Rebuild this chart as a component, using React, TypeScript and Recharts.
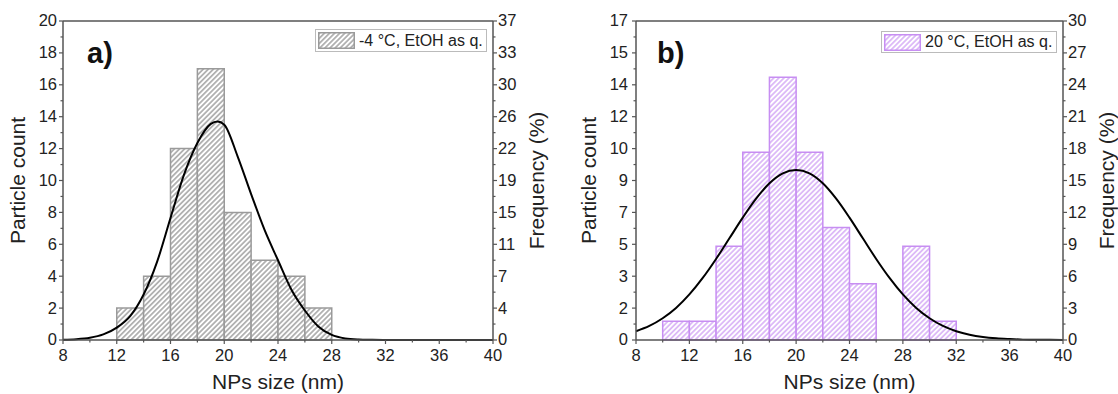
import React from "react";
import {
  ComposedChart,
  Line,
  XAxis,
  YAxis,
  ReferenceArea,
  ReferenceLine,
  Legend,
  Label,
} from "recharts";

const FONT = '"Liberation Sans", Arial, sans-serif';
const AXIS = "#555";
const TEXT = "#222";
const BIN = 2;

const sizeTicks = [8, 10, 12, 14, 16, 18, 20, 22, 24, 26, 28, 30, 32, 34, 36, 38, 40];

// a) -4 °C
const binStartA = [12, 14, 16, 18, 20, 22, 24, 26];
const countA = [2, 4, 12, 17, 8, 5, 4, 2];
const fitXA = [8, 9, 10, 11, 12, 13, 14, 15, 16, 17, 18, 19, 19.5, 20, 21, 22, 23, 24, 25, 26, 27, 28, 29, 30, 31, 32, 33, 34, 35, 36, 37, 38, 39, 40];
const fitYA = [0.02, 0.05, 0.14, 0.35, 0.78, 1.5, 2.85, 4.9, 7.65, 10.35, 12.35, 13.55, 13.7, 13.5, 11.5, 9.15, 6.9, 5.0, 3.15, 1.85, 0.85, 0.32, 0.1, 0.03, 0.01, 0, 0, 0, 0, 0, 0, 0, 0, 0];
const countLabelsA = ["0", "2", "4", "6", "8", "10", "12", "14", "16", "18", "20"];
const freqLabelsA = ["0", "4", "7", "11", "15", "19", "22", "26", "30", "33", "37"];

// b) 20 °C
const binStartB = [10, 12, 14, 16, 18, 20, 22, 24, 26, 28, 30];
const countB = [1, 1, 5, 10, 14, 10, 6, 3, 0, 5, 1];
const fitXB = [8, 9, 10, 11, 12, 13, 14, 15, 16, 17, 18, 19, 20, 21, 22, 23, 24, 25, 26, 27, 28, 29, 30, 31, 32, 33, 34, 35, 36, 37, 38, 39, 40];
const fitYB = [0.47, 0.75, 1.16, 1.71, 2.43, 3.31, 4.32, 5.42, 6.52, 7.53, 8.35, 8.88, 9.06, 8.88, 8.35, 7.53, 6.52, 5.42, 4.32, 3.31, 2.43, 1.71, 1.16, 0.75, 0.47, 0.28, 0.16, 0.09, 0.05, 0.02, 0.01, 0.01, 0];
const countLabelsB = ["0", "2", "3", "5", "7", "9", "10", "12", "14", "15", "17"];
const freqLabelsB = ["0", "3", "6", "9", "12", "15", "18", "21", "24", "27", "30"];

function makeTicks(max: number, n: number) {
  const step = max / (n - 1);
  const out: number[] = [];
  for (let i = 0; i < n; i++) {
    out.push(i * step);
    if (i < n - 1) out.push((i + 0.5) * step);
  }
  return out;
}

function yTick(side: "left" | "right", labels: string[], max: number, gap: number) {
  const step = max / (labels.length - 1);
  return (props: any) => {
    const { x, y, payload } = props;
    const i = Math.round(payload.value / step);
    const major = Math.abs(payload.value - i * step) < 1e-6;
    const dir = side === "left" ? -1 : 1;
    const len = major ? 4 : 2.5;
    return (
      <g>
        <line x1={x} x2={x + dir * len} y1={y} y2={y} stroke={AXIS} strokeWidth={1.2} />
        {major && (
          <text
            x={x + dir * gap}
            y={y}
            dy="0.33em"
            textAnchor={side === "left" ? "end" : "start"}
            fontSize={16.5}
            fontFamily={FONT}
            fill={TEXT}
          >
            {labels[i]}
          </text>
        )}
      </g>
    );
  };
}

const xTick = (props: any) => {
  const { x, y, payload } = props;
  const major = (payload.value - 8) % 4 === 0;
  return (
    <g>
      <line x1={x} x2={x} y1={y} y2={y + (major ? 4 : 2.5)} stroke={AXIS} strokeWidth={1.2} />
      {major && (
        <text x={x} y={y + 21} textAnchor="middle" fontSize={16.5} fontFamily={FONT} fill={TEXT}>
          {payload.value}
        </text>
      )}
    </g>
  );
};

function Hatch({ id, color }: { id: string; color: string }) {
  return (
    <pattern id={id} patternUnits="userSpaceOnUse" width={3.6} height={3.6} patternTransform="rotate(45)">
      <rect width={3.6} height={3.6} fill="#fff" />
      <line x1={1.8} y1={0} x2={1.8} y2={3.6} stroke={color} strokeWidth={1.1} />
    </pattern>
  );
}

type PanelProps = {
  left: number;
  id: string;
  margin: { top: number; right: number; bottom: number; left: number };
  leftW: number;
  rightW: number;
  binStart: number[];
  counts: number[];
  fitX: number[];
  fitY: number[];
  countLabels: string[];
  freqLabels: string[];
  countMax: number;
  border: string;
  hatch: string;
  legendText: string;
  legendBox: { left: number; top: number; width: number; height: number };
  letter: string;
  letterX: number;
  leftLabelOffset: number;
  rightLabelOffset: number;
  leftGap: number;
};

function Panel(p: PanelProps) {
  const data = p.fitX.map((x, i) => ({ x, fit: p.fitY[i] }));
  const ticks = makeTicks(p.countMax, p.countLabels.length);
  return (
    <div style={{ position: "absolute", left: p.left, top: 0, width: 559, height: 394 }}>
      <ComposedChart width={559} height={394} data={data} margin={p.margin}>
        <defs>
          <Hatch id={p.id} color={p.hatch} />
        </defs>
        <XAxis
          dataKey="x"
          type="number"
          domain={[8, 40]}
          ticks={sizeTicks}
          interval={0}
          height={50}
          tickSize={0}
          tickMargin={0}
          tick={xTick}
          stroke={AXIS}
          strokeWidth={1.5}
        >
          <Label value="NPs size (nm)" position="insideBottom" offset={1} fontSize={21} fontFamily={FONT} fill={TEXT} />
        </XAxis>
        <YAxis
          yAxisId="L"
          type="number"
          domain={[0, p.countMax]}
          ticks={ticks}
          interval={0}
          width={p.leftW}
          tickSize={0}
          tickMargin={0}
          tick={yTick("left", p.countLabels, p.countMax, p.leftGap)}
          stroke={AXIS}
          strokeWidth={1.5}
        >
          <Label
            value="Particle count"
            angle={-90}
            position="insideLeft"
            offset={p.leftLabelOffset}
            fontSize={21}
            fontFamily={FONT}
            fill={TEXT}
            style={{ textAnchor: "middle" }}
          />
        </YAxis>
        <YAxis
          yAxisId="R"
          orientation="right"
          type="number"
          domain={[0, p.countMax]}
          allowDataOverflow
          ticks={ticks}
          interval={0}
          width={p.rightW}
          tickSize={0}
          tickMargin={0}
          tick={yTick("right", p.freqLabels, p.countMax, 5)}
          stroke={AXIS}
          strokeWidth={1.5}
        >
          <Label
            value="Frequency (%)"
            angle={-90}
            position="insideRight"
            offset={p.rightLabelOffset}
            fontSize={21}
            fontFamily={FONT}
            fill={TEXT}
            style={{ textAnchor: "middle" }}
          />
        </YAxis>
        <ReferenceLine yAxisId="L" y={p.countMax} stroke={AXIS} strokeWidth={1.5} />
        {p.binStart.map((s, i) =>
          p.counts[i] > 0 ? (
            <ReferenceArea
              key={s}
              yAxisId="L"
              x1={s}
              x2={s + BIN}
              y1={0}
              y2={p.counts[i]}
              fill={`url(#${p.id})`}
              fillOpacity={1}
              stroke={p.border}
              strokeWidth={1.5}
            />
          ) : null
        )}
        {/* frequency axis carries the same fit, invisible, so the axis is drawn */}
        <Line
          yAxisId="R"
          dataKey="fit"
          type="monotone"
          dot={false}
          activeDot={false}
          stroke="none"
          legendType="none"
          isAnimationActive={false}
        />
        <Line
          yAxisId="L"
          dataKey="fit"
          type="monotone"
          dot={false}
          stroke="#000"
          strokeWidth={2}
          isAnimationActive={false}
        />
        <Legend
          verticalAlign="middle"
          layout="horizontal"
          align="center"
          wrapperStyle={{ ...p.legendBox, margin: 0, padding: 0 }}
          content={() => (
            <div
              style={{
                boxSizing: "border-box",
                width: p.legendBox.width,
                height: p.legendBox.height,
                border: "1px solid #bbb",
                background: "#fff",
                display: "flex",
                alignItems: "center",
                paddingLeft: 2,
                fontFamily: FONT,
                fontSize: 16,
                color: TEXT,
                whiteSpace: "nowrap",
              }}
            >
              <svg width={37} height={17} style={{ marginRight: 4 }}>
                <defs>
                  <Hatch id={p.id + "-lg"} color={p.hatch} />
                </defs>
                <rect x={0.75} y={0.75} width={35.5} height={15.5} fill={`url(#${p.id}-lg)`} stroke={p.border} strokeWidth={1.5} />
              </svg>
              <span>{p.legendText}</span>
            </div>
          )}
        />
      </ComposedChart>
      <div
        style={{
          position: "absolute",
          left: p.letterX,
          top: 36,
          fontFamily: FONT,
          fontWeight: "bold",
          fontSize: 29,
          lineHeight: "34px",
          color: "#111",
        }}
      >
        {p.letter}
      </div>
    </div>
  );
}

export default function App() {
  return (
    <div style={{ position: "absolute", left: 0, top: 0, width: 1118, height: 394, background: "#fff", fontFamily: FONT }}>
      <Panel
        left={0}
        id="hatchA"
        margin={{ top: 21, right: 8, bottom: 4, left: 8 }}
        leftW={55}
        rightW={58}
        binStart={binStartA}
        counts={countA}
        fitX={fitXA}
        fitY={fitYA}
        countLabels={countLabelsA}
        freqLabels={freqLabelsA}
        countMax={20}
        border="#9a9a9a"
        hatch="#808080"
        legendText="-4 °C, EtOH as q."
        legendBox={{ left: 315, top: 29, width: 172, height: 23 }}
        letter="a)"
        letterX={87}
        leftLabelOffset={10}
        rightLabelOffset={14}
        leftGap={6}
      />
      <Panel
        left={559}
        id="hatchB"
        margin={{ top: 21, right: 4, bottom: 4, left: 8 }}
        leftW={69}
        rightW={51}
        binStart={binStartB}
        counts={countB}
        fitX={fitXB}
        fitY={fitYB}
        countLabels={countLabelsB}
        freqLabels={freqLabelsB}
        countMax={17}
        border="#c78ef2"
        hatch="#c78ef2"
        legendText="20 °C, EtOH as q."
        legendBox={{ left: 322, top: 31, width: 176, height: 22 }}
        letter="b)"
        letterX={98}
        leftLabelOffset={22}
        rightLabelOffset={7}
        leftGap={8}
      />
    </div>
  );
}
